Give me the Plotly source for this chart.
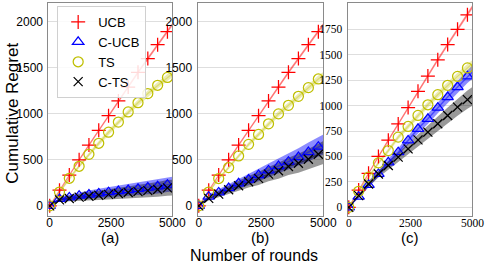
import plotly.graph_objects as go

# ---------------- data ----------------
rounds = [0, 400, 800, 1200, 1600, 2000, 2400, 2800, 3200, 3600, 4000, 4400, 4800, 5000]

ucb = [0, 170, 335, 500, 660, 820, 980, 1140, 1290, 1450, 1600, 1750, 1892, 1970]
ucb_hw = [0, 5, 8, 10, 12, 13, 14, 15, 16, 17, 18, 19, 20, 20]

ts_a = [0, 150, 300, 430, 560, 680, 800, 910, 1020, 1120, 1220, 1310, 1395, 1435]
cucb_a = [0, 75, 92, 110, 122, 135, 148, 160, 172, 185, 198, 212, 230, 236]
cts_a = [0, 65, 80, 95, 105, 115, 125, 135, 145, 155, 165, 178, 195, 198]
ts_hw_a = [0, 10, 15, 18, 21, 24, 26, 28, 30, 32, 34, 36, 38, 38]
cucb_hw_a = [0, 20, 30, 38, 44, 50, 55, 60, 65, 69, 73, 77, 80, 81]
cts_hw_a = [0, 20, 30, 38, 44, 50, 55, 60, 65, 70, 75, 80, 85, 86]

ts_b = [0, 150, 297, 416, 542, 668, 776, 891, 999, 1092, 1190, 1284, 1378, 1415]
cucb_b = [0, 100, 146, 193, 245, 285, 335, 385, 432, 480, 530, 585, 643, 665]
cts_b = [0, 82, 128, 175, 219, 262, 298, 345, 381, 428, 463, 507, 561, 580]
ts_hw_b = [0, 10, 15, 18, 21, 24, 26, 28, 30, 32, 34, 36, 38, 38]
cucb_hw_b = [0, 25, 35, 45, 52, 60, 67, 74, 81, 88, 95, 102, 108, 110]
cts_hw_b = [0, 25, 35, 45, 55, 62, 70, 78, 86, 94, 102, 110, 120, 125]

ts_c = [0, 158, 296, 437, 558, 690, 795, 903, 1008, 1107, 1199, 1287, 1370, 1410]
cucb_c = [0, 105, 220, 328, 443, 542, 657, 772, 870, 979, 1084, 1182, 1287, 1330]
cts_c = [0, 115, 230, 328, 411, 493, 575, 663, 739, 821, 903, 985, 1058, 1090]
ts_hw_c = [0, 10, 15, 18, 21, 24, 26, 28, 30, 32, 34, 36, 38, 38]
cucb_hw_c = [0, 15, 22, 28, 33, 38, 42, 46, 50, 54, 58, 62, 66, 67]
cts_hw_c = [0, 20, 28, 35, 42, 48, 54, 60, 66, 72, 78, 84, 90, 92]

series_names = ["UCB", "C-UCB", "TS", "C-TS"]
panel_labels = ["(a)", "(b)", "(c)"]
x_ticks = [0, 2500, 5000]
y_ticks_ab = [0, 500, 1000, 1500, 2000]
y_ticks_c = [0, 250, 500, 750, 1000, 1250, 1500, 1750]

panels = [
    {"UCB": (ucb, ucb_hw), "C-UCB": (cucb_a, cucb_hw_a), "TS": (ts_a, ts_hw_a), "C-TS": (cts_a, cts_hw_a)},
    {"UCB": (ucb, ucb_hw), "C-UCB": (cucb_b, cucb_hw_b), "TS": (ts_b, ts_hw_b), "C-TS": (cts_b, cts_hw_b)},
    {"UCB": (ucb, ucb_hw), "C-UCB": (cucb_c, cucb_hw_c), "TS": (ts_c, ts_hw_c), "C-TS": (cts_c, cts_hw_c)},
]

# ---------------- styles ----------------
W, H = 498, 263
styles = {
    "UCB": dict(rgb=(255, 0, 0), symbol="cross-thin-open", size=10, band=0.3, line=0.35),
    "C-UCB": dict(rgb=(0, 0, 255), symbol="triangle-up-open", size=10, band=0.45, line=0.5),
    "TS": dict(rgb=(191, 191, 0), symbol="circle-open", size=10, band=0.3, line=0.35),
    "C-TS": dict(rgb=(0, 0, 0), symbol="x-thin-open", size=9, band=0.4, line=0.5),
}

def rgba(rgb, a):
    return f"rgba({rgb[0]},{rgb[1]},{rgb[2]},{a})"

x_dom = [(48 / W, 176 / W), (202 / W, 332 / W), (357 / W, 486 / W)]
y_dom = (1 - 216 / H, 1 - 3.3 / H)
y_ranges = [(-110, 2200), (-110, 2200), (-85, 2005)]

fig = go.Figure()

for p, data in enumerate(panels):
    xa = "x" if p == 0 else f"x{p+1}"
    ya = "y" if p == 0 else f"y{p+1}"
    for name in series_names:
        mean, hw = data[name]
        st = styles[name]
        lo = [m - h for m, h in zip(mean, hw)]
        hi = [m + h for m, h in zip(mean, hw)]
        fig.add_trace(go.Scatter(x=rounds, y=lo, mode="lines", line=dict(width=0),
                                 showlegend=False, hoverinfo="skip", xaxis=xa, yaxis=ya))
        fig.add_trace(go.Scatter(x=rounds, y=hi, mode="lines", line=dict(width=0),
                                 fill="tonexty", fillcolor=rgba(st["rgb"], st["band"]),
                                 showlegend=False, hoverinfo="skip", xaxis=xa, yaxis=ya))
    for name in series_names:
        mean, hw = data[name]
        st = styles[name]
        fig.add_trace(go.Scatter(x=rounds, y=mean, mode="lines",
                                 line=dict(color=rgba(st["rgb"], st["line"]), width=1.3),
                                 showlegend=False, hoverinfo="skip", xaxis=xa, yaxis=ya))
    for name in series_names:
        mean, hw = data[name]
        st = styles[name]
        fig.add_trace(go.Scatter(x=rounds[:-1], y=mean[:-1], mode="markers", name=name,
                                 marker=dict(symbol=st["symbol"], size=st["size"],
                                             color=rgba(st["rgb"], 1),
                                             line=dict(color=rgba(st["rgb"], 1), width=1.25)),
                                 showlegend=(p == 0), xaxis=xa, yaxis=ya))

axis_common = dict(showline=True, mirror=True, linecolor="#8a8a8a", linewidth=1,
                   ticks="", zeroline=False)
layout = {}
for p in range(3):
    sx = "" if p == 0 else str(p + 1)
    tfont = dict(family="Liberation Serif", size=11.5, color="black") if p == 2 else \
        dict(family="Liberation Sans, Arial", size=12, color="black")
    layout[f"xaxis{sx}"] = dict(domain=list(x_dom[p]), range=[-50, 5000], tickvals=x_ticks,
                                showgrid=False, anchor=f"y{sx}", tickfont=tfont, ticklabelstandoff=-4,
                                **axis_common)
    layout[f"yaxis{sx}"] = dict(domain=list(y_dom), range=list(y_ranges[p]),
                                tickvals=y_ticks_c if p == 2 else y_ticks_ab,
                                showgrid=True, gridcolor="#dedede", gridwidth=1,
                                anchor=f"x{sx}", tickfont=tfont, ticklabelstandoff=2,
                                **axis_common)

fig.update_layout(**layout)

annotations = []
label_pos = [(111.7, 237), (266.7, 237), (421.7, 237)]
for lab, (px, py) in zip(panel_labels, label_pos):
    annotations.append(dict(text=lab, x=px / W, y=1 - py / H, xref="paper", yref="paper",
                            showarrow=False, xanchor="center", yanchor="middle", borderpad=0,
                            font=dict(family="Liberation Sans, Arial", size=15, color="black")))
annotations.append(dict(text="Number of rounds", x=260 / W, y=1 - 255 / H, xref="paper", yref="paper",
                        showarrow=False, xanchor="center", yanchor="middle", borderpad=0,
                        font=dict(family="Liberation Sans, Arial", size=16, color="black")))
annotations.append(dict(text="Cumulative Regret", x=10 / W, y=1 - 113 / H, xref="paper", yref="paper",
                        showarrow=False, xanchor="center", yanchor="middle", textangle=-90,
                        font=dict(family="Liberation Sans, Arial", size=17, color="black")))

fig.update_layout(
    width=W, height=H,
    margin=dict(l=0, r=0, t=0, b=0),
    paper_bgcolor="white", plot_bgcolor="white",
    annotations=annotations,
    legend=dict(x=57 / W, y=1 - 6 / H, xanchor="left", yanchor="top", traceorder="normal",
                bgcolor="rgba(255,255,255,0.85)", bordercolor="#d0d0d0", borderwidth=1,
                font=dict(family="Liberation Sans, Arial", size=13, color="black"),
                tracegroupgap=0, itemwidth=30),
)

fig.write_html("out.html", config={"displayModeBar": False},
               post_script="document.body.style.margin='0';document.body.style.padding='0';")
